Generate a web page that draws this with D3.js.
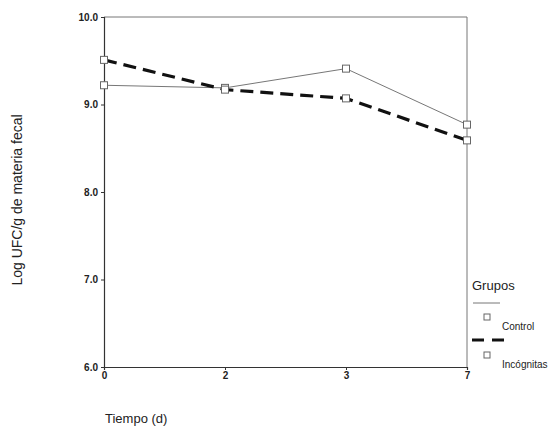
<!DOCTYPE html>
<html>
<head>
  <script src="https://d3js.org/d3.v7.min.js"></script>
  <style>
    body { margin: 0; background: #fff; }
    text { font-family: "Liberation Sans", Arial, sans-serif; fill: #222; }
  </style>
</head>
<body>
</body>
<script type="text/javascript">

  var days = ["0", "2", "3", "7"];
  var control = [9.22, 9.19, 9.41, 8.77];
  var incognitas = [9.51, 9.17, 9.07, 8.59];
  var yTicks = [6, 7, 8, 9, 10];
  var groupNames = ["Control", "Incógnitas"];

  var config = {
    canvas: {width: 560, height: 427},
    plot: {left: 104, right: 467, top: 17, bottom: 367}
  };

  var svg = d3.select("body").append("svg")
    .attr("width", config.canvas.width)
    .attr("height", config.canvas.height);

  var x = d3.scalePoint().domain(days).range([config.plot.left, config.plot.right]);
  var y = d3.scaleLinear().domain([6, 10]).range([config.plot.bottom, config.plot.top]);

  // frame (top and right)
  svg.append("path")
    .attr("d", "M" + config.plot.left + "," + config.plot.top + "H" + config.plot.right + "V" + config.plot.bottom)
    .attr("fill", "none").attr("stroke", "#777").attr("stroke-width", 1);

  var yAxis = svg.append("g")
    .attr("transform", "translate(" + config.plot.left + ",0)")
    .call(d3.axisLeft(y).tickValues(yTicks).tickSize(3).tickPadding(3).tickFormat(d3.format(".1f")));

  var xAxis = svg.append("g")
    .attr("transform", "translate(0," + config.plot.bottom + ")")
    .call(d3.axisBottom(x).tickSize(3).tickPadding(2));

  [yAxis, xAxis].forEach(function(a) {
    a.select(".domain").attr("stroke", "#333").attr("stroke-width", 1.2);
    a.selectAll(".tick line").attr("stroke", "#333");
    a.selectAll(".tick text").style("font-size", "10px").style("font-weight", "bold").attr("fill", "#222");
  });

  var line = d3.line()
    .x(function(d, i) { return x(days[i]); })
    .y(function(d) { return y(d); });

  svg.append("path").datum(control)
    .attr("d", line).attr("fill", "none").attr("stroke", "#777").attr("stroke-width", 1);

  svg.append("path").datum(incognitas)
    .attr("d", line).attr("fill", "none").attr("stroke", "#111")
    .attr("stroke-width", 3.2).attr("stroke-dasharray", "13,7");

  [control, incognitas].forEach(function(series) {
    svg.append("g").selectAll("rect")
      .data(series)
      .enter().append("rect")
      .attr("x", function(d, i) { return x(days[i]) - 3.5; })
      .attr("y", function(d) { return y(d) - 3.5; })
      .attr("width", 7).attr("height", 7)
      .attr("fill", "#fff").attr("stroke", "#666").attr("stroke-width", 1);
  });

  // axis titles
  svg.append("text")
    .attr("transform", "translate(22,200) rotate(-90)")
    .attr("text-anchor", "middle")
    .style("font-size", "14px")
    .text("Log UFC/g de materia fecal");

  svg.append("text")
    .attr("x", 105).attr("y", 423)
    .style("font-size", "13px")
    .text("Tiempo (d)");

  // legend
  var lg = svg.append("g").attr("transform", "translate(472,0)");
  lg.append("text").attr("x", 0).attr("y", 290).style("font-size", "13px").text("Grupos");

  lg.append("line").attr("x1", 1).attr("x2", 28).attr("y1", 303).attr("y2", 303)
    .attr("stroke", "#777").attr("stroke-width", 1);
  lg.append("line").attr("x1", 0).attr("x2", 33).attr("y1", 340).attr("y2", 340)
    .attr("stroke", "#111").attr("stroke-width", 3.2).attr("stroke-dasharray", "12,8");

  groupNames.forEach(function(name, i) {
    var yy = 317 + i * 38;
    lg.append("rect").attr("x", 12).attr("y", yy - 3).attr("width", 6).attr("height", 6)
      .attr("fill", "#fff").attr("stroke", "#666").attr("stroke-width", 1);
    lg.append("text").attr("x", 30).attr("y", yy + 13)
      .style("font-size", "10px").text(name);
  });

</script>
</html>
